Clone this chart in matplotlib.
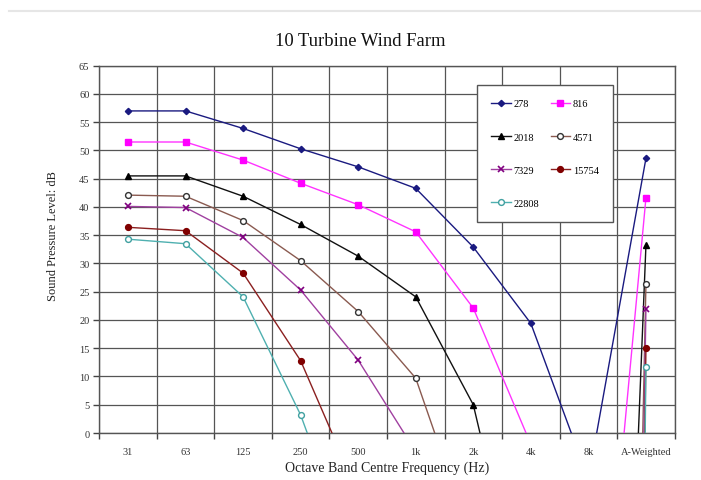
import matplotlib
matplotlib.use("Agg")
import matplotlib.pyplot as plt
from matplotlib.lines import Line2D
import numpy as np

plt.rcParams['font.family'] = ['Liberation Serif', 'DejaVu Serif']

bands = ["31", "63", "125", "250", "500", "1k", "2k", "4k", "8k", "A-Weighted"]

# Sound pressure level per octave band for each receiver distance (m)
spl_278 = [57.0, 57.0, 53.9, 50.3, 47.1, 43.3, 32.9, 19.4, -8.2, 48.6]
spl_816 = [51.5, 51.5, 48.3, 44.2, 40.4, 35.6, 22.1, -2.0, -68.0, 41.6]
spl_2018 = [45.5, 45.5, 41.9, 36.9, 31.3, 24.1, 5.0, -38.0, -220.0, 33.2]
spl_4571 = [42.1, 41.9, 37.6, 30.5, 21.5, 9.7, -19.7, -60.0, -450.0, 26.3]
spl_7329 = [40.1, 39.9, 34.6, 25.3, 12.9, -3.3, -30.0, -80.0, -600.0, 22.0]
spl_15754 = [36.4, 35.8, 28.3, 12.8, -10.7, -40.0, -70.0, -120.0, -800.0, 15.1]
spl_22808 = [34.3, 33.5, 24.1, 3.2, -24.6, -60.0, -100.0, -150.0, -900.0, 11.6]

series_names = ["278", "816", "2018", "4571", "7329", "15754", "22808"]
series_values = [spl_278, spl_816, spl_2018, spl_4571, spl_7329, spl_15754, spl_22808]

styles = {
    "278":   dict(color="#1a1a80", marker="D", ms=3.2, mfc="#1a1a80", mec="#1a1a80"),
    "816":   dict(color="#ff33ff", marker="s", ms=4.6, mfc="#ff00ff", mec="#ff00ff"),
    "2018":  dict(color="#111111", marker="^", ms=4.3, mfc="#000000", mec="#000000"),
    "4571":  dict(color="#8a5a50", marker="o", ms=4.2, mfc="white", mec="#333333"),
    "7329":  dict(color="#a040a0", marker="x", ms=4.0, mfc="#800080", mec="#800080", mew=1.2),
    "15754": dict(color="#8b2020", marker="o", ms=4.2, mfc="#800000", mec="#800000"),
    "22808": dict(color="#4fb0b0", marker="o", ms=4.2, mfc="white", mec="#40a0a0"),
}

fig = plt.figure(figsize=(7.01, 4.81), dpi=100)
ax = fig.add_axes([0.1415, 0.0977, 0.8210, 0.7636])

# faint separator line near the top of the page
fig.add_artist(Line2D([0.013, 1.0], [1 - 12 / 481, 1 - 12 / 481],
                      color="#e6e6e6", lw=1.5, transform=fig.transFigure))

x = np.arange(len(bands))
handles = {}
for name, vals in zip(series_names, series_values):
    st = styles[name]
    h, = ax.plot(x, vals, lw=1.0, clip_on=True, zorder=3, label=name, **st)
    handles[name] = h

ax.set_xlim(-0.5, len(bands) - 0.5)
ax.set_ylim(0, 65)
ax.set_yticks(np.arange(0, 66, 5))
ax.set_xticks(np.arange(-0.5, len(bands), 1.0))
ax.set_xticklabels([])
ax.set_xticks(x, minor=True)
ax.set_xticklabels(bands, minor=True)
ax.tick_params(axis="x", which="minor", length=0, pad=10, labelsize=7.5)
ax.tick_params(axis="x", which="major", length=4, width=1, color="#444444")
ax.tick_params(axis="y", length=4, width=1, color="#444444", labelsize=7.5, pad=3)
for lab in ax.get_yticklabels() + ax.get_xticklabels(minor=True):
    lab.set_color("#333333")

ax.grid(True, which="major", color="#555555", lw=0.9)
ax.set_axisbelow(True)
for sp in ax.spines.values():
    sp.set_color("#555555")
    sp.set_linewidth(1.0)

fig.text(360 / 701, 1 - 42 / 481, "10 Turbine Wind Farm", fontsize=13.4,
         ha="center", va="center", color="#111111")
ax.set_xlabel("Octave Band Centre Frequency (Hz)", fontsize=10, labelpad=3, color="#222222")
fig.text(53 / 701, 1 - 236.5 / 481, "Sound Pressure Level: dB", fontsize=9,
         rotation=90, ha="center", va="center", color="#222222")

order = ["278", "2018", "7329", "22808", "816", "4571", "15754"]
leg = ax.legend([handles[n] for n in order], order, ncol=2,
                loc="upper left", bbox_to_anchor=(0.6565, 0.9475),
                borderaxespad=0.0,
                frameon=True, fancybox=False, shadow=False, framealpha=1.0,
                edgecolor="#555555", fontsize=7.5, handlelength=1.9,
                labelspacing=2.3, columnspacing=1.1, borderpad=1.35,
                handletextpad=0.25)
leg.get_frame().set_linewidth(1.0)
leg.set_zorder(5)

fig.savefig("out.png", dpi=100, facecolor="white")
